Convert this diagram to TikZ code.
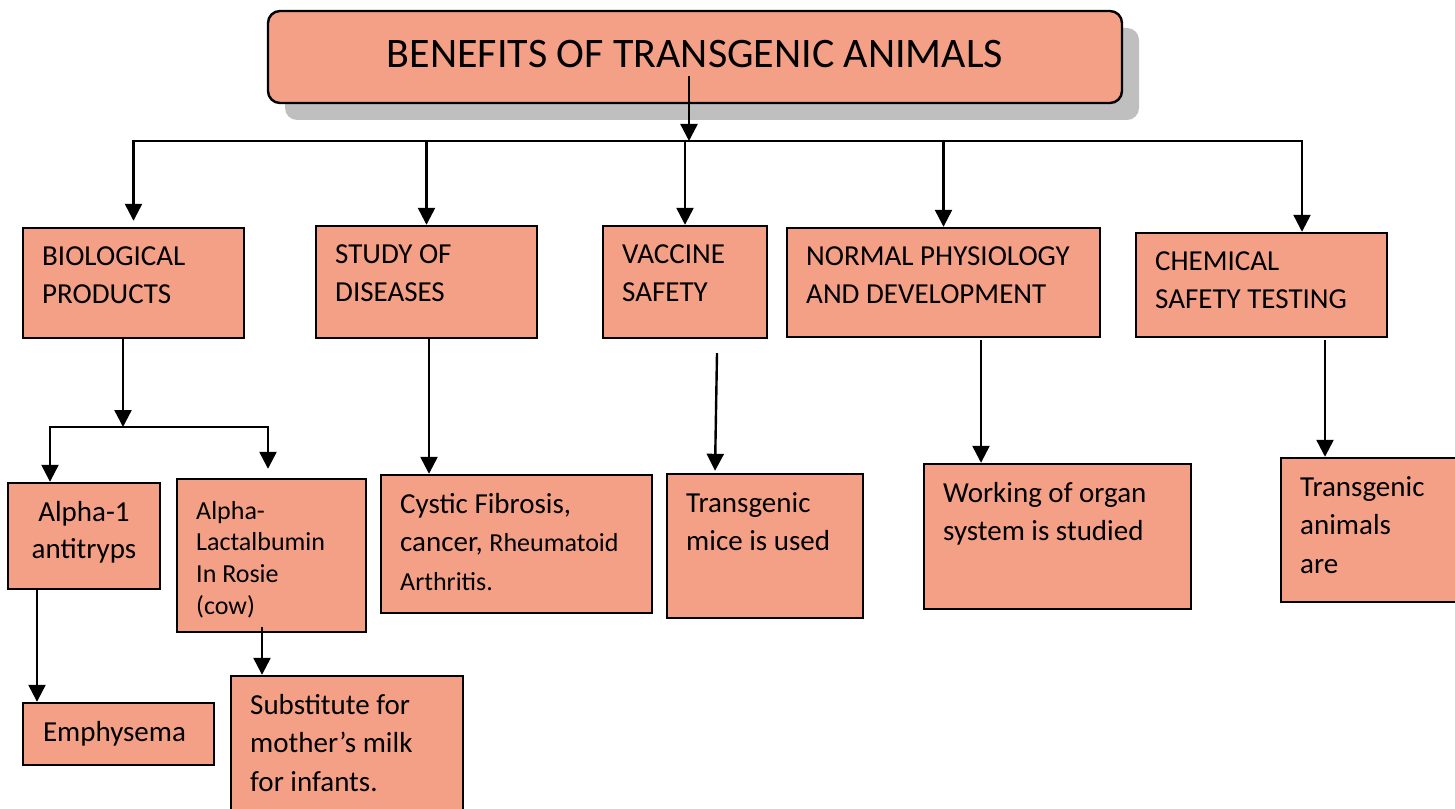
\documentclass[tikz,border=0pt]{standalone}
\usepackage{fontspec}
\setmainfont{Carlito}
\usetikzlibrary{positioning, fit, calc, arrows.meta, shadows}
\definecolor{salmon}{HTML}{F4A086}
\definecolor{shade}{HTML}{BFBFBF}
\newcommand{\smtext}{\fontsize{13}{15.8}\selectfont}

\begin{document}
\begin{tikzpicture}[
  x=0.5pt, y=-0.5pt,
  box/.style={draw=black, fill=salmon, line width=1.2pt, inner sep=0pt},
  txt/.style={anchor=north west, align=left, inner xsep=10pt, inner ysep=9.5pt,
              font=\fontsize{14.5}{19.3}\selectfont},
  mid/.style={anchor=center, align=center, inner sep=0pt, font=\fontsize{14.5}{18.5}\selectfont},
  small/.style={inner ysep=11.5pt, font=\smtext},
  arr/.style={-{Triangle[length=8.5pt, width=8.5pt]}, line width=1.2pt},
  twoway/.style={{Triangle[length=8.5pt, width=8.5pt]}-{Triangle[length=8.5pt, width=8.5pt]}, line width=1.2pt}
]
  \useasboundingbox (0,0) rectangle (1455,808);

  % Title
  \node[box, rounded corners=6pt, fit={(268,11) (1122,103)},
        drop shadow={shadow xshift=8.5pt, shadow yshift=-8.5pt, fill=shade, opacity=1},
        label={[mid, yshift=1.5pt, font=\fontsize{21}{25}\selectfont]center:{BENEFITS OF TRANSGENIC ANIMALS}}] (title) {};

  % Benefits
  \node[box, fit={(23,228) (244,338)}, label={[txt]north west:{BIOLOGICAL\\PRODUCTS}}] (bio) {};
  \node[box, fit={(316,226) (537,338)}, label={[txt]north west:{STUDY OF\\DISEASES}}] (study) {};
  \node[box, fit={(603,226) (767,338)}, label={[txt]north west:{VACCINE\\SAFETY}}] (vac) {};
  \node[box, fit={(787,228) (1100,337)}, label={[txt]north west:{NORMAL PHYSIOLOGY\\AND DEVELOPMENT}}] (norm) {};
  \node[box, fit={(1136,233) (1387,337)}, label={[txt]north west:{CHEMICAL\\SAFETY TESTING}}] (chem) {};

  % Examples
  \node[box, fit={(8,483) (160,589)}, label={[mid, yshift=2pt]center:{Alpha-1\\antitryps}}] (alpha) {};
  \node[box, fit={(177,479) (366,632)}, label={[txt, small]north west:{Alpha-\\Lactalbumin\\In Rosie\\(cow)}}] (lact) {};
  \node[box, fit={(381,475) (652,613)},
        label={[txt]north west:{Cystic Fibrosis,\\cancer, {\smtext Rheumatoid}\\{\smtext Arthritis.}}}] (cyst) {};
  \node[box, fit={(667,474) (863,618)}, label={[txt]north west:{Transgenic\\mice is used}}] (mice) {};
  \node[box, fit={(924,464) (1191,609)}, label={[txt]north west:{Working of organ\\system is studied}}] (organ) {};
  \node[box, fit={(1281,458) (1470,602)}, label={[txt]north west:{Transgenic\\animals\\are}}] (trans) {};

  % Uses
  \node[box, fit={(23,703) (214,765)}, label={[mid, xshift=-2pt]center:{Emphysema}}] (emph) {};
  \node[box, fit={(231,676) (463,820)}, label={[txt]north west:{Substitute for\\mother’s milk\\for infants.}}] (milk) {};

  % Connectors, first level
  \coordinate (bus) at (689,141);
  \coordinate (chemin) at ([xshift=20.25pt]chem.north);
  \draw[arr] ([shift={(-6,19)}]title.center) -- (bus);
  \draw[twoway] ([yshift=3pt]bio.north) |- (bus) -| (chemin);
  \foreach \n in {study, vac, norm}
    \draw[arr] (\n.north |- bus) -- (\n.north);

  % Connectors, second level
  \coordinate (split) at (123,427);
  \coordinate (a1in) at ([xshift=-17pt]alpha.north);
  \coordinate (lacin) at ([xshift=-1.75pt, yshift=4.5pt]lact.north);
  \draw[arr] (bio.south -| split) -- (split);
  \draw[twoway] (a1in) |- (split) -| (lacin);
  \draw[arr] ([xshift=1.25pt]study.south) coordinate (s0) -- (s0 |- cyst.north);
  \draw[arr] ([xshift=16pt, yshift=-7pt]vac.south) -- ([xshift=-25pt, yshift=1pt]mice.north);
  \draw[arr] ([xshift=18.75pt, yshift=-1pt]norm.south) coordinate (n0) -- (n0 |- organ.north);
  \draw[arr] ([xshift=31.75pt, yshift=-1pt]chem.south) coordinate (c0) -- (c0 |- trans.north);

  % Connectors, third level
  \draw[arr] ([xshift=-23.5pt]alpha.south) coordinate (a0) -- (a0 |- emph.north);
  \draw[arr] ([xshift=-4.75pt, yshift=3pt]lact.south) coordinate (l0) -- (l0 |- milk.north);
\end{tikzpicture}
\end{document}
